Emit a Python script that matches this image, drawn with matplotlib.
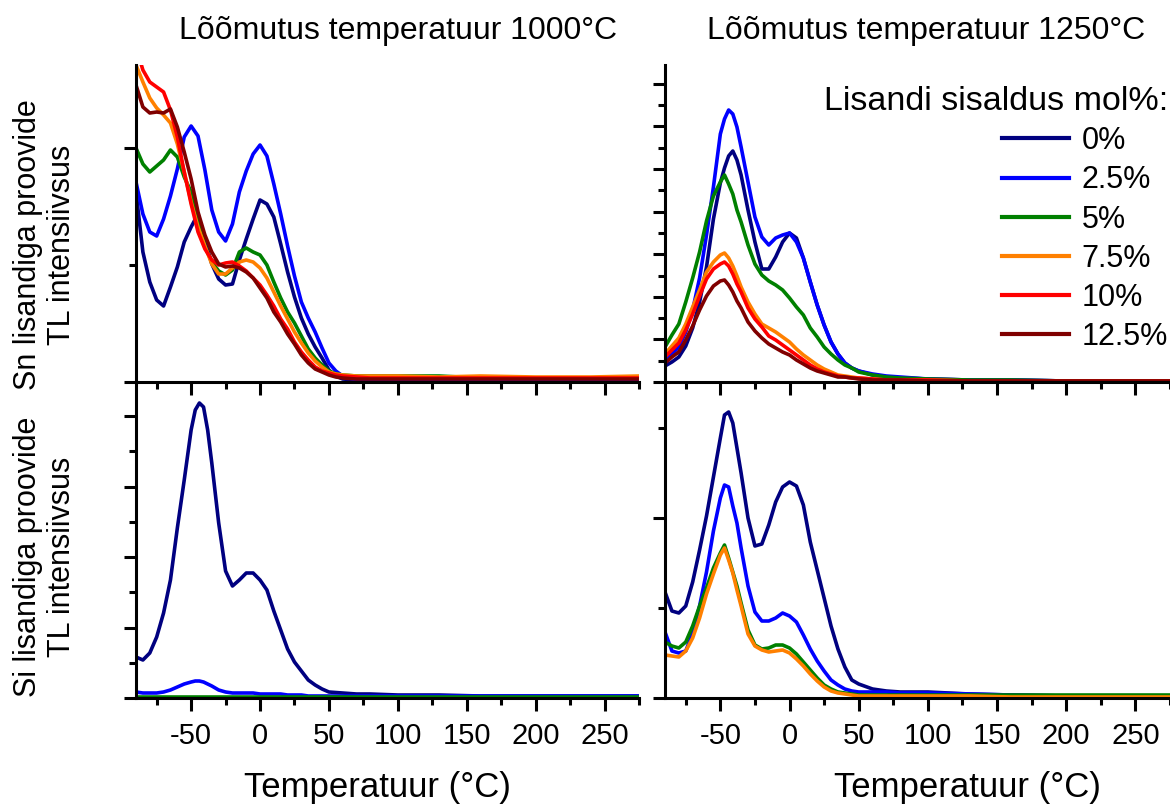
import matplotlib
matplotlib.use('Agg')
import matplotlib.pyplot as plt
from matplotlib.ticker import MultipleLocator, NullFormatter

plt.rcParams['font.family'] = ['Liberation Sans', 'DejaVu Sans']
plt.rcParams['axes.unicode_minus'] = False

# Dopant content (mol%) and line colours
doping = ['0%', '2.5%', '5%', '7.5%', '10%', '12.5%']
colors = ['#000080', '#0000FF', '#008000', '#FF8000', '#FF0000', '#800000']

# Temperature grids (deg C)
t_coarse = [-90, -85, -80, -75, -70, -65, -60, -55, -50, -45, -40, -35, -30, -25, -20, -15, -10, -5,
            0, 5, 10, 15, 20, 25, 30, 35, 40, 45, 50, 55, 60, 70, 80, 100, 130, 160, 200, 240, 275]
t_fine = [-90, -85, -80, -75, -70, -65, -60, -55, -50, -47, -44, -41, -38, -35, -30, -25, -20, -15,
          -10, -5, 0, 5, 10, 15, 20, 25, 30, 35, 40, 45, 50, 60, 70, 80, 100, 130, 160, 200, 240, 275]

# Sn doped, annealed at 1000 C (TL intensity, a.u.)
sn1000_0 = [190, 130, 100, 82, 76, 95, 115, 140, 155, 168, 142, 118, 103, 97, 98, 122, 143, 163,
            182, 178, 165, 138, 110, 85, 64, 48, 35, 24, 12, 6, 3, 2, 2, 2, 2, 2, 2, 2, 2]
sn1000_25 = [200, 168, 150, 146, 163, 186, 213, 245, 256, 246, 212, 172, 150, 141, 158, 190, 211, 228,
             237, 226, 198, 168, 136, 106, 80, 64, 50, 34, 19, 11, 6, 2, 2, 1, 1, 1, 1, 1, 1]
sn1000_5 = [234, 218, 210, 216, 222, 232, 225, 205, 190, 162, 136, 120, 111, 107, 112, 130, 134, 130,
            127, 117, 100, 84, 70, 59, 46, 33, 24, 17, 11, 8, 7, 6, 6, 6, 6, 4, 4, 4, 4]
sn1000_75 = [317, 300, 284, 274, 267, 259, 238, 210, 180, 155, 136, 118, 108, 108, 114, 120, 122, 120,
             114, 104, 90, 76, 63, 50, 39, 29, 21, 15, 10, 8, 7, 6, 6, 6, 5, 6, 5, 5, 6]
sn1000_10 = [335, 312, 300, 295, 290, 272, 245, 210, 178, 150, 133, 122, 117, 119, 120, 116, 111, 104,
             97, 87, 76, 63, 53, 40, 30, 22, 15, 11, 9, 7, 6, 5, 4, 4, 4, 4, 4, 4, 4]
sn1000_125 = [297, 275, 269, 270, 269, 273, 255, 230, 203, 170, 147, 130, 118, 115, 116, 114, 110, 104,
              94, 84, 70, 60, 48, 38, 27, 19, 13, 10, 7, 5, 4, 3, 3, 3, 3, 3, 3, 3, 3]

# Sn doped, annealed at 1250 C
sn1250_0 = [16, 20, 25, 36, 54, 80, 115, 163, 199, 214, 226, 231, 222, 207, 172, 140, 113, 113, 125, 140,
            149, 144, 124, 100, 77, 57, 40, 28, 19, 14, 11, 7, 5, 4, 3, 2, 2, 1, 1, 1]
sn1250_25 = [22, 28, 35, 50, 72, 104, 147, 195, 248, 263, 272, 268, 255, 235, 200, 165, 145, 137, 144, 147,
             149, 140, 124, 100, 77, 57, 40, 28, 19, 14, 11, 8, 6, 5, 3, 2, 2, 1, 1, 1]
sn1250_5 = [35, 47, 58, 80, 104, 130, 161, 186, 200, 207, 198, 188, 172, 160, 137, 118, 107, 101, 97, 92,
            84, 75, 67, 54, 45, 35, 28, 22, 17, 14, 10, 7, 5, 4, 3, 2, 2, 1, 1, 1]
sn1250_75 = [28, 36, 44, 58, 75, 92, 110, 120, 127, 129, 124, 116, 106, 95, 80, 68, 58, 54, 50, 45,
             40, 33, 27, 22, 17, 13, 10, 7, 6, 5, 4, 3, 2, 2, 2, 1, 1, 1, 1, 1]
sn1250_10 = [25, 32, 39, 52, 68, 86, 103, 113, 118, 120, 116, 108, 98, 90, 74, 63, 55, 46, 42, 37,
             32, 27, 22, 17, 13, 10, 8, 6, 5, 4, 4, 3, 2, 2, 2, 1, 1, 1, 1, 1]
sn1250_125 = [19, 25, 30, 42, 56, 72, 86, 96, 101, 102, 97, 90, 81, 74, 60, 51, 44, 38, 34, 30,
              27, 22, 18, 14, 11, 9, 7, 5, 5, 4, 3, 2, 2, 2, 1, 1, 1, 1, 1, 1]

# Si doped, annealed at 1000 C
si1000_0 = [41, 38, 45, 61, 85, 118, 170, 218, 268, 288, 295, 291, 268, 235, 175, 127, 112, 118, 125, 125,
            118, 108, 87, 68, 49, 36, 27, 18, 13, 9, 6, 5, 4, 4, 3, 3, 2, 2, 2, 2]
si1000_25 = [6, 5, 5, 5, 6, 8, 11, 14, 16, 17, 17, 16, 14, 12, 8, 6, 5, 5, 5, 5,
             4, 4, 4, 4, 3, 3, 3, 2, 2, 2, 2, 2, 2, 2, 2, 2, 2, 2, 2, 2]
si1000_5 = [1, 1, 1, 1, 1, 1, 1, 1, 1, 1, 1, 1, 1, 1, 1, 1, 1, 1, 1, 1,
            1, 1, 1, 1, 1, 1, 1, 1, 1, 1, 1, 1, 1, 1, 1, 1, 1, 1, 1, 1]

# Si doped, annealed at 1250 C
si1250_0 = [106, 87, 85, 92, 116, 148, 182, 221, 260, 283, 286, 275, 250, 225, 180, 152, 154, 173, 196, 211,
            216, 212, 193, 156, 128, 100, 72, 49, 31, 18, 14, 9, 7, 6, 6, 4, 3, 2, 2, 2]
si1250_25 = [66, 47, 45, 47, 65, 92, 126, 167, 200, 213, 211, 192, 175, 150, 112, 86, 77, 77, 80, 85,
             82, 76, 63, 49, 37, 27, 18, 13, 9, 7, 6, 6, 6, 5, 5, 4, 3, 2, 2, 2]
si1250_5 = [56, 52, 50, 56, 72, 92, 110, 130, 145, 153, 140, 126, 112, 95, 68, 53, 49, 50, 53, 53,
            50, 44, 36, 28, 20, 13, 9, 6, 5, 4, 3, 3, 3, 3, 3, 3, 3, 3, 3, 3]
si1250_75 = [43, 42, 41, 47, 60, 80, 104, 124, 143, 150, 138, 125, 108, 92, 64, 52, 48, 46, 47, 48,
             45, 39, 32, 24, 17, 11, 7, 5, 4, 3, 2, 2, 2, 2, 2, 2, 1, 1, 1, 1]

W, H = 1170, 807
fig = plt.figure(figsize=(W / 100, H / 100), dpi=100)


def px_axes(x0, x1, y0, y1):
    # y0 = top pixel, y1 = bottom pixel
    return fig.add_axes([x0 / W, 1 - y1 / H, (x1 - x0) / W, (y1 - y0) / H])


ax_tl = px_axes(136, 639, 65, 382)
ax_tr = px_axes(665, 1170, 65, 382)
ax_bl = px_axes(136, 639, 382, 698)
ax_br = px_axes(665, 1170, 382, 698)

panels = [
    (ax_tl, t_coarse, [sn1000_0, sn1000_25, sn1000_5, sn1000_75, sn1000_10, sn1000_125], 234, 117, 317),
    (ax_tr, t_fine, [sn1250_0, sn1250_25, sn1250_5, sn1250_75, sn1250_10, sn1250_125], 42.6, 21.3, 317),
    (ax_bl, t_fine, [si1000_0, si1000_25, si1000_5], 70.5, 35.25, 316),
    (ax_br, t_fine, [si1250_0, si1250_25, si1250_5, si1250_75], 180, 90, 316),
]

for ax, temps, series, ymaj, ymin, ytop in panels:
    ax.set_facecolor('none')
    for vals, lab, col in zip(series, doping, colors):
        ax.plot(temps, vals, color=col, lw=2.6, label=lab, solid_joinstyle='round')
    ax.set_xlim(-90, 275)
    ax.set_ylim(0, ytop)
    ax.xaxis.set_major_locator(MultipleLocator(50))
    ax.xaxis.set_minor_locator(MultipleLocator(25))
    ax.yaxis.set_major_locator(MultipleLocator(ymaj))
    ax.yaxis.set_minor_locator(MultipleLocator(ymin))
    ax.yaxis.set_major_formatter(NullFormatter())
    for s in ['top', 'right']:
        ax.spines[s].set_visible(False)
    for s in ['left', 'bottom']:
        ax.spines[s].set_linewidth(2.2)
    ax.tick_params(which='major', direction='out', length=9, width=2.2, labelsize=21, pad=8)
    ax.tick_params(which='minor', direction='out', length=5, width=2.2)
    ax.tick_params(labelleft=False)

ax_tl.tick_params(labelbottom=False)
ax_tr.tick_params(labelbottom=False)

leg = ax_tr.legend(loc='upper right', bbox_to_anchor=(1168 / W, 1 - 86 / H),
                   bbox_transform=fig.transFigure, frameon=False, fontsize=22,
                   title='Lisandi sisaldus mol%:', title_fontsize=24.5, alignment='right',
                   handlelength=2.2, handletextpad=0.4, labelspacing=0.3, borderpad=0,
                   borderaxespad=0)
for line in leg.get_lines():
    line.set_linewidth(3)

# Titles, axis labels
fig.text(398 / W, 1 - 31 / H, 'Lõõmutus temperatuur 1000°C', ha='center', va='center', fontsize=23)
fig.text(926 / W, 1 - 31 / H, 'Lõõmutus temperatuur 1250°C', ha='center', va='center', fontsize=23)
fig.text(45 / W, 1 - 245 / H, 'Sn lisandiga proovide\nTL intensiivsus', rotation=90,
         ha='center', va='center', multialignment='center', fontsize=22, linespacing=1.15)
fig.text(45 / W, 1 - 557 / H, 'Si lisandiga proovide\nTL intensiivsus', rotation=90,
         ha='center', va='center', multialignment='center', fontsize=22, linespacing=1.15)
fig.text(377 / W, 1 - 787 / H, 'Temperatuur (°C)', ha='center', va='center', fontsize=25)
fig.text(967 / W, 1 - 787 / H, 'Temperatuur (°C)', ha='center', va='center', fontsize=25)

fig.savefig('out.png', dpi=100)
